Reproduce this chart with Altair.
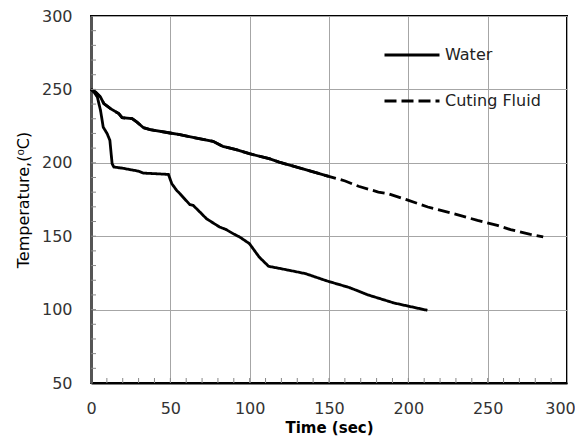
import altair as alt
import pandas as pd

# ---- data ----
water_t = [0, 2, 4, 6, 7.7, 10.2, 11.9, 13.3, 14.4, 20, 24.8, 30, 33, 40, 48.8, 50.9, 54, 56,
           62.3, 64.4, 68.6, 72.7, 77, 81, 85.2, 90, 93.6, 99.8, 106, 111.9, 124.8, 135.2,
           148.8, 162.9, 174.6, 191, 212]
water_T = [250, 248, 244.8, 235.7, 224.3, 219.8, 215.3, 199.4, 197.1, 196.3, 195.3, 194.3, 193,
           192.6, 192.1, 185.8, 181.2, 179, 171.5, 171, 166.5, 162, 159, 156.3, 154.5, 151.5,
           149.5, 145, 135.8, 129.5, 126.8, 124.5, 119.5, 115, 110, 104.5, 99.5]

fluid_t = [0, 2.9, 6, 8.1, 12.3, 17.5, 19.6, 25.9, 29, 33.1, 37.3, 49.8, 56, 66.5, 76.9, 83.1,
           91.5, 99.8, 112.3, 118.6, 135.2, 149.8, 160.2, 168.6, 181.1, 187.3, 198.8, 212.3,
           226.9, 243.6, 256.1, 264.4, 276.9, 285]
fluid_T = [250, 248.2, 244.8, 240.3, 236.9, 233.5, 230.7, 230.1, 227.7, 223.9, 222.6, 220.3,
           219.2, 216.8, 214.6, 211.2, 209, 206.2, 202.8, 200.5, 195.3, 190.8, 187.6, 184,
           180.1, 179, 174.9, 169.9, 165.8, 160.8, 157.4, 154.5, 151.3, 149.5]

series_names = ["Water", "Cuting Fluid"]
x_ticks = [0, 50, 100, 150, 200, 250, 300]
y_ticks = [50, 100, 150, 200, 250, 300]
x_minor = list(range(10, 300, 10))
y_minor = list(range(60, 300, 10))
solid_until = 149.8  # densely sampled part of the dashed series looks solid

W, H = 476, 367

df = pd.concat([
    pd.DataFrame({"Time": water_t, "Temp": water_T, "Series": series_names[0]}),
    pd.DataFrame({"Time": fluid_t, "Temp": fluid_T, "Series": series_names[1]}),
], ignore_index=True)

FONT = "DejaVu Sans"
xscale = alt.Scale(domain=[0, 300], nice=False)
yscale = alt.Scale(domain=[50, 300], nice=False)

x_main = alt.X("Time:Q", scale=xscale, axis=alt.Axis(
    values=x_ticks, title="Time (sec)", grid=True, gridColor="#a6a6a6", gridWidth=1,
    ticks=False, domain=True, domainColor="#000000", domainWidth=2, labelFlush=False,
    labelOffset={"expr": "datum.value == 300 ? -7 : 0"},
    labelFont=FONT, labelFontSize=16, labelColor="#333333", labelPadding=17,
    titleFont=FONT, titleFontSize=15, titleFontWeight="bold", titleColor="#000000",
    titlePadding=4))
y_main = alt.Y("Temp:Q", scale=yscale, axis=alt.Axis(
    values=y_ticks, title="Temperature,(⁰C)", grid=True, gridColor="#a6a6a6", gridWidth=1,
    ticks=False, domain=True, domainColor="#555555", domainWidth=3, labelFlush=False,
    labelFont=FONT, labelFontSize=16, labelColor="#333333", labelPadding=19,
    titleFont=FONT, titleFontSize=16, titleFontWeight="normal", titleColor="#000000",
    titlePadding=10))

lines = alt.Chart(df).mark_line(strokeWidth=2.8, color="black").encode(
    x=x_main, y=y_main,
    strokeDash=alt.StrokeDash("Series:N", scale=alt.Scale(domain=series_names, range=[[1, 0], [12, 5]]),
                              legend=alt.Legend(
                                  title=None, orient="none", legendX=292, legendY=10,
                                  symbolType="stroke", symbolSize=3025, symbolStrokeWidth=2.8,
                                  symbolStrokeColor="black", labelFont=FONT, labelFontSize=16,
                                  labelColor="#222222", labelOffset=4, rowPadding=9)),
    detail="Series:N",
)

solid_part = alt.Chart(df).transform_filter(
    (alt.datum.Series == series_names[1]) & (alt.datum.Time <= solid_until)
).mark_line(strokeWidth=2.8, color="black").encode(
    x=alt.X("Time:Q", scale=xscale), y=alt.Y("Temp:Q", scale=yscale))

xminor = alt.Chart(pd.DataFrame({"Time": x_minor})).mark_rule(color="#888888", strokeWidth=1).encode(
    x=alt.X("Time:Q", scale=xscale), y=alt.value(H), y2=alt.value(H - 5))
yminor = alt.Chart(pd.DataFrame({"Temp": y_minor})).mark_rule(color="#888888", strokeWidth=1).encode(
    y=alt.Y("Temp:Q", scale=yscale), x=alt.value(0), x2=alt.value(5))

chart = alt.layer(lines, solid_part, xminor, yminor).properties(
    width=W, height=H, autosize="none",
    padding={"left": 83, "top": 8, "right": 8, "bottom": 56},
    background="white",
).configure_view(stroke="#000000", strokeWidth=2)

chart.save("out.html", embed_options={"renderer": "svg", "actions": False})
